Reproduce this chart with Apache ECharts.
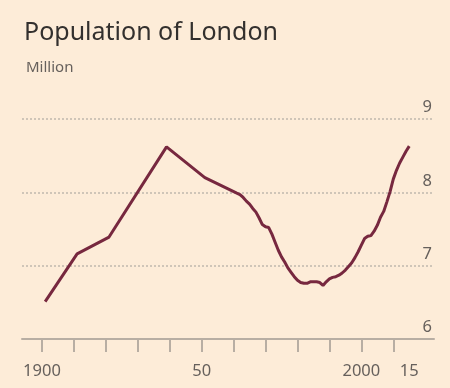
<!DOCTYPE html>
<html>
<head>
<meta charset="utf-8">
<script src="https://cdn.jsdelivr.net/npm/echarts@6/dist/echarts.min.js"></script>
<style>
html,body{margin:0;padding:0;background:#fdecd8;}
#chart{width:450px;height:388px;}
</style>
</head>
<body>
<div id="chart"></div>
<script>
const years = [1901,1911,1921,1939,1951,1961,1962,1963,1964,1965,1966,1967,1968,1969,1970,1971,1972,1973,1974,1975,1976,1977,1978,1979,1980,1981,1982,1983,1984,1985,1986,1987,1988,1989,1990,1991,1992,1993,1994,1995,1996,1997,1998,1999,2000,2001,2002,2003,2004,2005,2006,2007,2008,2009,2010,2011,2012,2013,2014,2015];
const population = [6.51,7.16,7.39,8.62,8.20,7.99,7.97,7.93,7.88,7.84,7.78,7.73,7.65,7.56,7.53,7.52,7.43,7.32,7.21,7.12,7.05,6.97,6.91,6.85,6.80,6.77,6.76,6.76,6.78,6.78,6.78,6.77,6.73,6.78,6.82,6.84,6.85,6.87,6.90,6.94,6.99,7.04,7.11,7.19,7.28,7.37,7.40,7.41,7.47,7.55,7.66,7.74,7.87,8.01,8.18,8.30,8.40,8.48,8.56,8.63];
const xTicks = [1900,1910,1920,1930,1940,1950,1960,1970,1980,1990,2000,2010];
const xLabels = [1900,1950,2000,2015];
const xLabelText = {1900:'1900',1950:'50',2000:'2000',2015:'15'};
const yTicks = [6,7,8,9];

const chart = echarts.init(document.getElementById('chart'));
chart.setOption({
  backgroundColor:'#fdecd8',
  animation:false,
  title:[
    {text:'Population of London',left:19,top:15,textStyle:{fontFamily:'Noto Sans',fontSize:25,fontWeight:'normal',color:'#33302e'}},
    {text:'Million',left:21,top:55,textStyle:{fontFamily:'Noto Sans',fontSize:15,fontWeight:'normal',color:'#66605c'}}
  ],
  grid:{left:22,right:16,top:119,bottom:49,containLabel:false},
  xAxis:{
    type:'value',min:1893.75,max:2022.75,
    axisLine:{show:true,lineStyle:{color:'#b8aea3',width:2}},
    axisTick:{show:true,customValues:xTicks,length:13,lineStyle:{color:'#b8aea3',width:2}},
    axisLabel:{show:true,customValues:xLabels,margin:24,fontFamily:'Noto Sans',fontSize:16.5,color:'#66605c',
      formatter:v=>xLabelText[v]||''},
    splitLine:{show:false}
  },
  yAxis:{
    type:'value',position:'right',min:yTicks[0],max:yTicks[yTicks.length-1],interval:1,
    axisLine:{show:false},axisTick:{show:false},
    axisLabel:{inside:true,margin:2,verticalAlign:'bottom',padding:[0,0,3,0],fontFamily:'Noto Sans',fontSize:16.5,color:'#66605c'},
    splitLine:{show:true,lineStyle:{color:'#cfc5b8',width:2,type:[2,2]}}
  },
  series:[{
    type:'line',
    data:years.map((y,i)=>[y,population[i]]),
    showSymbol:false,
    lineStyle:{color:'#77283f',width:3},
    itemStyle:{color:'#77283f'}
  }]
});
</script>
</body>
</html>
